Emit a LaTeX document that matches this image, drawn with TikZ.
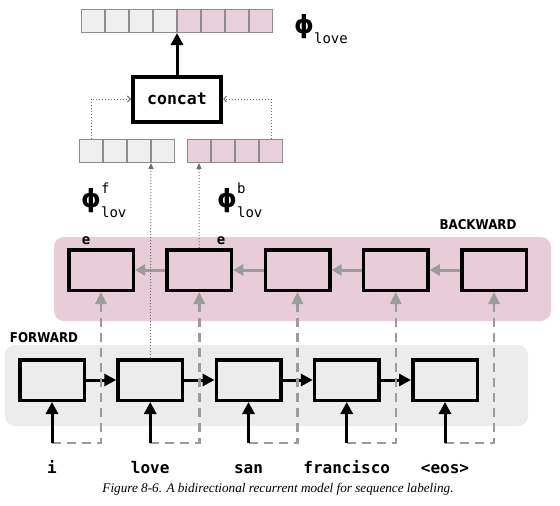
\documentclass[tikz,border=0pt]{standalone}
\usepackage{fontspec}
\setmainfont{Liberation Serif}
\setmonofont{DejaVu Sans Mono}
\newfontfamily\phifont{DejaVu Sans}
\newfontfamily\tagfont[FakeStretch=0.88]{DejaVu Sans}
\usetikzlibrary{positioning,arrows.meta}

\definecolor{pinkbg}{HTML}{E8CDD9}
\definecolor{graybg}{HTML}{ECECEC}
\definecolor{pinkcell}{HTML}{E9CFDB}
\definecolor{graycell}{HTML}{EFEFEF}
\definecolor{cellline}{HTML}{8C8C8C}
\definecolor{arrowgray}{HTML}{9B9B9B}
\definecolor{linkgray}{HTML}{6E6E6E}

\newcommand{\phivec}[2]{{\phifont\bfseries\fontsize{25}{25}\selectfont ϕ}%
  \raisebox{13.5pt}{\rlap{\ttfamily\fontsize{14}{14}\selectfont #1}}%
  \raisebox{-10pt}{\ttfamily\fontsize{14}{14}\selectfont #2}}

\begin{document}
\begin{tikzpicture}[x=1pt, y=-1pt, node distance=30.25pt,
  rnn/.style={draw, line width=3.5pt, minimum width=64.5pt, minimum height=40.5pt, inner sep=0pt},
  cell/.style={draw=cellline, line width=1pt, minimum size=23pt, inner sep=0pt},
  fcell/.style={cell, fill=graycell},
  bcell/.style={cell, fill=pinkcell},
  fwd/.style={-{Triangle[length=12pt,width=12pt]}, line width=3pt},
  bwd/.style={-{Triangle[length=10pt,width=11pt]}, line width=3pt, draw=arrowgray},
  skip/.style={-{Triangle[length=12pt,width=11pt]}, line width=2.5pt, draw=arrowgray, dash pattern=on 9pt off 6pt},
  link/.style={-{Triangle[length=6pt,width=5pt]}, draw=linkgray, line width=1pt, dotted},
  tolink/.style={-{Straight Barb[length=3pt,width=6pt]}, draw=linkgray, line width=1pt, dotted},
  word/.style={font=\ttfamily\bfseries\fontsize{16}{16}\selectfont},
  tag/.style={font=\tagfont\bfseries\fontsize{13.5}{13.5}\selectfont},
]
\useasboundingbox (0,0) rectangle (560,506);

\fill[pinkbg, rounded corners=10pt] (54,237) rectangle (551,321);
\fill[graybg, rounded corners=10pt] (5,345) rectangle (528,426);

\node[tag] (backward) at (478,225) {BACKWARD};
\node[tag] (forward) at (44,338) {FORWARD};

\node[rnn] (F1) at (52,380) {};
\foreach \i [remember=\i as \j (initially 1)] in {2,...,5}
  \node[rnn, right=of F\j] (F\i) {};
\node[rnn] (B1) at (101,270) {};
\foreach \i [remember=\i as \j (initially 1)] in {2,...,5}
  \node[rnn, right=of B\j] (B\i) {};

\foreach \i [remember=\i as \j (initially 1)] in {2,...,5} {
  \draw[fwd] (F\j.east) -- (F\i.west);
  \draw[bwd] (B\i.west) -- (B\j.east);
}

\foreach \w [count=\i] in {i,love,san,francisco,<eos>} {
  \path (F\i.south) ++(0,41) coordinate (in\i);
  \path (F\i.south) ++(0,71) node[word, anchor=base] (w\i) {\w};
  \draw[skip] (in\i) -| (B\i.south);
  \draw[fwd] (in\i) -- (F\i.south);
}

\node[font=\ttfamily\bfseries\fontsize{14}{14}\selectfont] (e1) at (86,241) {e};
\node[font=\ttfamily\bfseries\fontsize{14}{14}\selectfont] (e2) at (221,241) {e};

\foreach \i in {0,...,3} {
  \node[fcell] (t\i) at ({93+24*\i},21) {};
  \node[fcell] (lf\i) at ({91+24*\i},151) {};
  \node[bcell] (rb\i) at ({199+24*\i},151) {};
}
\foreach \i in {4,...,7}
  \node[bcell] (t\i) at ({93+24*\i},21) {};

\node[draw, line width=4pt, minimum width=88pt, minimum height=45pt,
  font=\ttfamily\bfseries\fontsize{16.5}{16.5}\selectfont] (concat) at (177,99) {concat};
\draw[fwd] (concat.north) -- (t3.south east);
\draw[tolink] (lf0.north) |- (concat.west);
\draw[tolink] (rb3.north) |- (concat.east);
\draw[link] (F2.north) -- (lf3.south west);
\draw[link] (B2.north) -- (rb0.south);

\node[anchor=base west, inner sep=0pt] (philove) at (294,33) {\phivec{}{love}};
\node[anchor=base west, inner sep=0pt] (phif) at (81,207) {\phivec{f}{lov}};
\node[anchor=base west, inner sep=0pt] (phib) at (217,207) {\phivec{b}{lov}};

\node[anchor=base, font=\itshape\fontsize{13.2}{13.2}\selectfont] (caption) at (278,492)
  {Figure 8-6. A bidirectional recurrent model for sequence labeling.};
\end{tikzpicture}
\end{document}
